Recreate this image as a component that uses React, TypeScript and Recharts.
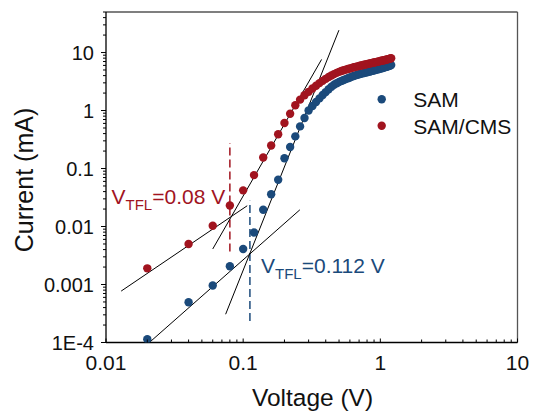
import React from "react";
import { ScatterChart, Scatter, XAxis, YAxis, ReferenceLine, Customized } from "recharts";

// bias voltage (V)
const voltage = [
    0.02, 0.04, 0.06, 0.08, 0.1, 0.12, 0.14, 0.16, 0.18, 0.2,
    0.22, 0.24, 0.26, 0.28, 0.3, 0.32, 0.34, 0.36, 0.38, 0.4,
    0.42, 0.44, 0.46, 0.48, 0.5, 0.52, 0.54, 0.56, 0.58, 0.6,
    0.62, 0.64, 0.66, 0.68, 0.7, 0.72, 0.74, 0.76, 0.78, 0.8,
    0.82, 0.84, 0.86, 0.88, 0.9, 0.92, 0.94, 0.96, 0.98, 1.0,
    1.02, 1.04, 1.06, 1.08, 1.1, 1.12, 1.14, 1.16, 1.18, 1.2,
];

// current (mA)
const samCurrent = [
    1.14e-4, 4.95e-4, 9.6e-4, 0.00207, 0.0041, 0.0079, 0.0194, 0.036, 0.064, 0.15,
    0.235, 0.358, 0.533, 0.745, 1.0, 1.2, 1.4, 1.62, 1.85, 2.08,
    2.33, 2.58, 2.78, 2.96, 3.1, 3.24, 3.36, 3.48, 3.6, 3.72,
    3.84, 3.95, 4.04, 4.13, 4.21, 4.29, 4.37, 4.44, 4.51, 4.58,
    4.65, 4.72, 4.79, 4.86, 4.93, 5.0, 5.07, 5.14, 5.21, 5.28,
    5.35, 5.42, 5.5, 5.57, 5.65, 5.73, 5.81, 5.9, 5.98, 6.07,
];

const cmsCurrent = [
    0.0019, 0.005, 0.0103, 0.023, 0.042, 0.077, 0.155, 0.25, 0.39, 0.61,
    0.88, 1.23, 1.54, 1.83, 2.1, 2.4, 2.68, 2.97, 3.25, 3.52,
    3.78, 4.02, 4.25, 4.46, 4.64, 4.8, 4.95, 5.08, 5.2, 5.32,
    5.44, 5.56, 5.67, 5.77, 5.87, 5.96, 6.05, 6.14, 6.23, 6.32,
    6.4, 6.49, 6.57, 6.65, 6.73, 6.81, 6.89, 6.97, 7.05, 7.13,
    7.21, 7.29, 7.37, 7.45, 7.53, 7.61, 7.69, 7.78, 7.87, 7.96,
];

// fitted lines (ohmic and trap-filling regimes)
const samOhmicFit = [{ v: 0.0209, i: 1.02e-4 }, { v: 0.259, i: 0.0194 }];
const samTflFit = [{ v: 0.0745, i: 3.07e-4 }, { v: 0.499, i: 24.3 }];
const cmsOhmicFit = [{ v: 0.0129, i: 7.7e-4 }, { v: 0.107, i: 0.0228 }];
const cmsTflFit = [{ v: 0.06, i: 0.0041 }, { v: 0.373, i: 7.6 }];

// trap-filled-limit voltages
const samVtfl = 0.112;
const cmsVtfl = 0.08;
const samVtflSpan = [2.35e-4, 0.0278];
const cmsVtflSpan = [0.0037, 0.275];

const xTicks = [0.01, 0.1, 1, 10];
const yTicks = [1e-4, 0.001, 0.01, 0.1, 1, 10];

const BLUE = "#1b4a7b";
const RED = "#a1141f";
const FONT = "'Liberation Sans', Arial, sans-serif";

const samData = voltage.map((v, k) => ({ v, i: samCurrent[k] }));
const cmsData = voltage.map((v, k) => ({ v, i: cmsCurrent[k] }));

function minorTicks(decades: number[]) {
    const out: number[] = [];
    decades.forEach((d, k) => {
        out.push(d);
        if (k < decades.length - 1) {
            for (let m = 2; m <= 9; m++) out.push(+(d * m).toPrecision(3));
        }
    });
    return out;
}

const isDecade = (val: number) => Math.abs(Math.log10(val) - Math.round(Math.log10(val))) < 1e-6;

const yLabel = (val: number) => (val < 0.001 ? "1E-4" : String(val));

const XTick = (props: any) => {
    const { x, y, payload } = props;
    const major = isDecade(payload.value);
    return (
        <g>
            <line x1={x} x2={x} y1={y} y2={y - (major ? 4 : 3)} stroke="#000" strokeWidth={1} />
            {major && (
                <text x={x} y={y + 27.5} textAnchor="middle" fontSize={21} fontFamily={FONT} fill="#111">
                    {payload.value}
                </text>
            )}
        </g>
    );
};

const YTick = (props: any) => {
    const { x, y, payload } = props;
    const major = isDecade(payload.value);
    return (
        <g>
            <line x1={x - (major ? 5 : 3)} x2={x} y1={y} y2={y} stroke="#000" strokeWidth={1} />
            {major && (
                <text x={x - 12} y={y + 7} textAnchor="end" fontSize={20} fontFamily={FONT} fill="#111">
                    {yLabel(payload.value)}
                </text>
            )}
        </g>
    );
};

const dot = (color: string) => (props: any) => <circle cx={props.cx} cy={props.cy} r={4.2} fill={color} />;

const Annotations = () => (
    <g fontFamily={FONT}>
        <text x={111.5} y={204} fontSize={21} fill={RED}>
            V<tspan fontSize={15} dy={6}>TFL</tspan>
            <tspan dy={-6}>=0.08 V</tspan>
        </text>
        <text x={261} y={272.7} fontSize={21} fill={BLUE}>
            V<tspan fontSize={15} dy={6}>TFL</tspan>
            <tspan dy={-6}>=0.112 V</tspan>
        </text>

        <circle cx={381.7} cy={99.3} r={4.2} fill={BLUE} />
        <text x={413.3} y={107.3} fontSize={21} fill="#111">SAM</text>
        <circle cx={381.7} cy={125.7} r={4.2} fill={RED} />
        <text x={413.3} y={133.7} fontSize={21} fill="#111">SAM/CMS</text>

        <text x={312.5} y={406} fontSize={24.5} textAnchor="middle" fill="#111">Voltage (V)</text>
        <text x={33} y={180} fontSize={25} textAnchor="middle" fill="#111" transform="rotate(-90 33 180)">
            Current (mA)
        </text>
    </g>
);

export default function App() {
    return (
        <div style={{ position: "absolute", left: 0, top: 0 }}>
            <ScatterChart width={535} height={416} margin={{ top: 12, right: 17.5, bottom: 13.5, left: 0 }}>
                <XAxis
                    dataKey="v"
                    type="number"
                    scale="log"
                    domain={[0.01, 10]}
                    allowDataOverflow
                    ticks={minorTicks(xTicks)}
                    interval={0}
                    tickSize={0}
                    tickMargin={0}
                    tickLine={false}
                    tick={<XTick />}
                    height={60}
                    axisLine={{ stroke: "#000", strokeWidth: 1.3 }}
                />
                <YAxis
                    dataKey="i"
                    type="number"
                    scale="log"
                    domain={[1e-4, 50]}
                    allowDataOverflow
                    ticks={[...minorTicks(yTicks), 20, 30, 40, 50]}
                    interval={0}
                    tickSize={0}
                    tickMargin={0}
                    tickLine={false}
                    tick={<YTick />}
                    width={106}
                    axisLine={{ stroke: "#000", strokeWidth: 1.3 }}
                />

                <ReferenceLine y={50} stroke="#555" strokeWidth={1.3} ifOverflow="visible" />
                <ReferenceLine x={10} stroke="#555" strokeWidth={1.3} ifOverflow="visible" />

                <ReferenceLine
                    segment={[{ x: cmsVtfl, y: cmsVtflSpan[0] }, { x: cmsVtfl, y: cmsVtflSpan[1] }]}
                    stroke={RED}
                    strokeWidth={1.5}
                    strokeDasharray="8 4"
                />
                <ReferenceLine
                    segment={[{ x: samVtfl, y: samVtflSpan[0] }, { x: samVtfl, y: samVtflSpan[1] }]}
                    stroke={BLUE}
                    strokeWidth={1.5}
                    strokeDasharray="8 4"
                />

                <Scatter data={samData} fill={BLUE} shape={dot(BLUE)} isAnimationActive={false} />
                <Scatter data={cmsData} fill={RED} shape={dot(RED)} isAnimationActive={false} />

                {[samOhmicFit, samTflFit, cmsOhmicFit, cmsTflFit].map((f, k) => (
                    <ReferenceLine
                        key={k}
                        segment={[{ x: f[0].v, y: f[0].i }, { x: f[1].v, y: f[1].i }]}
                        stroke="#000"
                        strokeWidth={1}
                        ifOverflow="visible"
                    />
                ))}

                <Customized component={<Annotations />} />
            </ScatterChart>
        </div>
    );
}
